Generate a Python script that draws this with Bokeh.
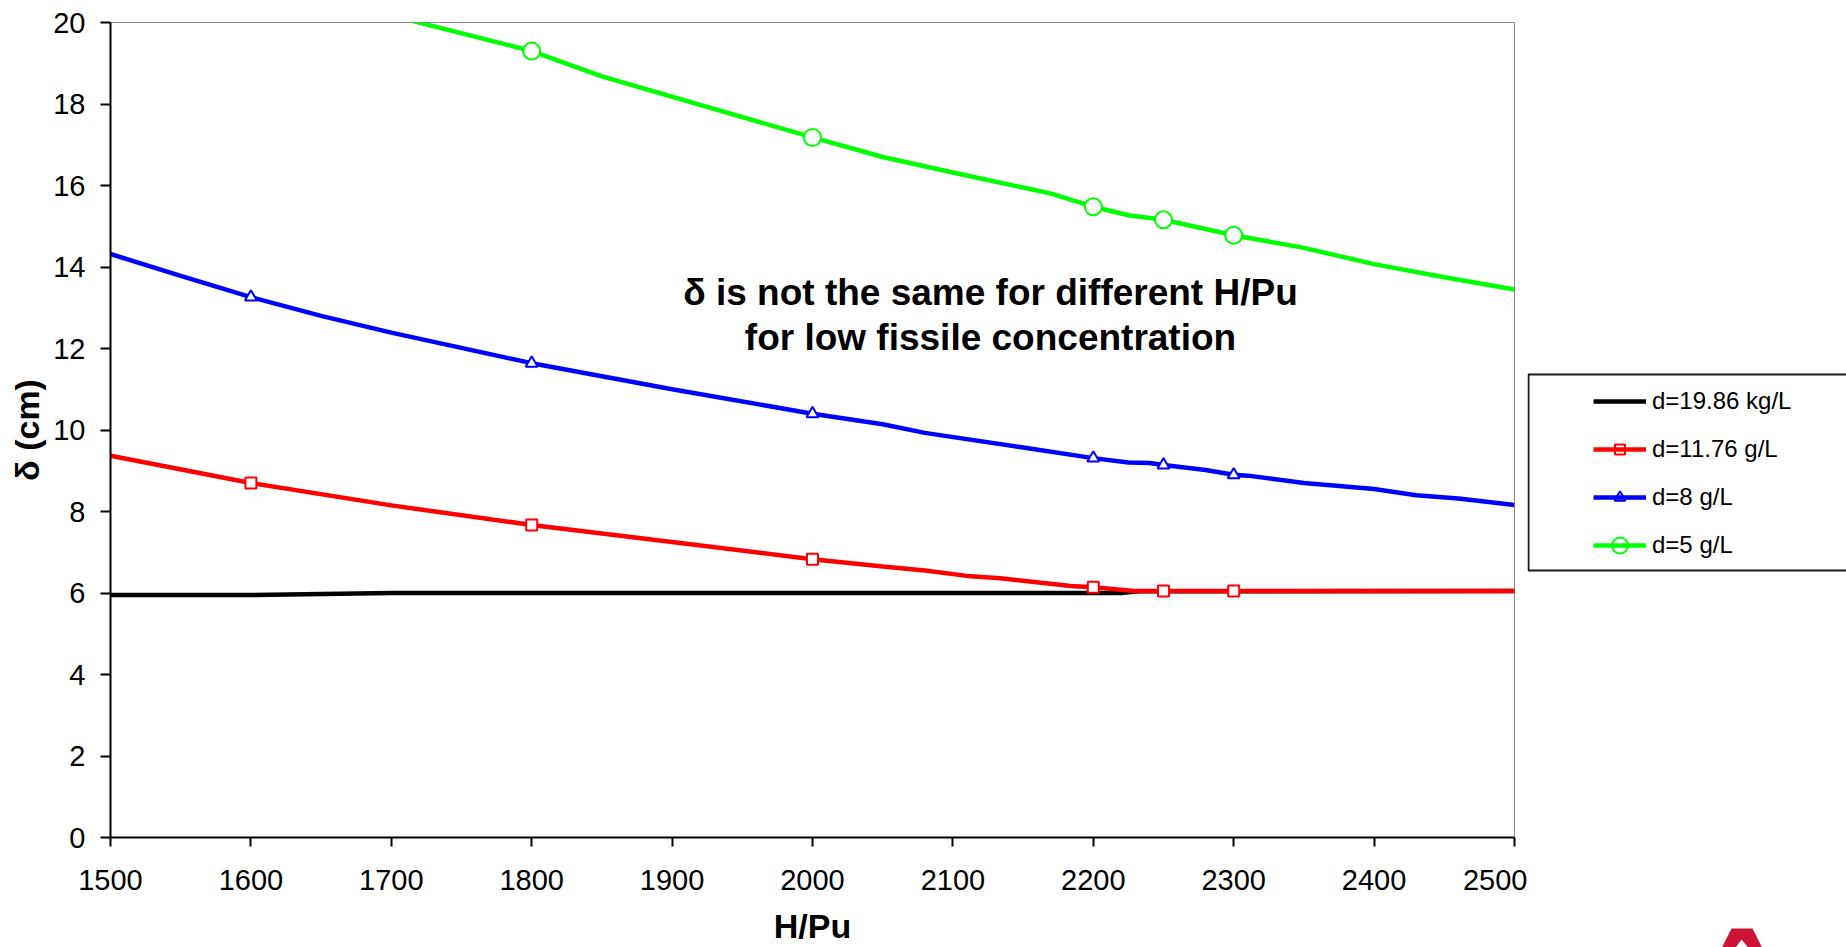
from bokeh.plotting import figure
from bokeh.models import Range1d, FixedTicker, Legend, LegendItem, Label
from bokeh.layouts import row
from bokeh.embed import file_html
from bokeh.resources import INLINE

# ---- data ----
black_x = [1500, 1600, 1700, 1800, 2000, 2220, 2232, 2500]
black_y = [5.95, 5.95, 6.0, 6.0, 6.0, 6.0, 6.04, 6.05]

red_x = [1500, 1600, 1700, 1800, 1900, 2000, 2050, 2080, 2110, 2134, 2184, 2200, 2229, 2250, 2300, 2500]
red_y = [9.37, 8.70, 8.15, 7.67, 7.25, 6.83, 6.65, 6.55, 6.42, 6.36, 6.17, 6.14, 6.05, 6.05, 6.05, 6.05]
red_mx = [1600, 1800, 2000, 2200, 2250, 2300]
red_my = [8.70, 7.67, 6.83, 6.14, 6.05, 6.05]

blue_x = [1500, 1550, 1600, 1650, 1700, 1800, 1900, 2000, 2050, 2080, 2150, 2200, 2225, 2240, 2250, 2280, 2300, 2310, 2350, 2400, 2430, 2460, 2500]
blue_y = [14.32, 13.78, 13.26, 12.80, 12.39, 11.64, 11.00, 10.40, 10.14, 9.93, 9.57, 9.31, 9.20, 9.19, 9.14, 9.02, 8.90, 8.88, 8.70, 8.55, 8.40, 8.32, 8.16]
blue_mx = [1600, 1800, 2000, 2200, 2250, 2300]
blue_my = [13.26, 11.64, 10.40, 9.31, 9.14, 8.90]

green_x = [1700, 1800, 1850, 2000, 2050, 2100, 2150, 2170, 2200, 2225, 2250, 2300, 2350, 2400, 2450, 2500]
green_y = [20.17, 19.30, 18.68, 17.18, 16.70, 16.32, 15.95, 15.80, 15.48, 15.27, 15.16, 14.78, 14.47, 14.07, 13.75, 13.45]
green_mx = [1800, 2000, 2200, 2250, 2300]
green_my = [19.30, 17.18, 15.48, 15.16, 14.78]

labels = ["d=19.86 kg/L", "d=11.76 g/L", "d=8 g/L", "d=5 g/L"]
colors = ["black", "#ff0000", "#0000ff", "#00ff00"]
markers = [None, "square", "triangle", "circle"]
marker_sizes = [0, 11, 12, 17]
x_ticks = list(range(1500, 2501, 100))
y_ticks = list(range(0, 21, 2))
note_lines = ["\u03b4 is not the same for different H/Pu", "for low fissile concentration"]

FONT = "Liberation Sans"
LW = 4.5
MLW = 2

p = figure(width=1527, height=947, output_backend="svg", toolbar_location=None,
           x_range=Range1d(1500, 2500), y_range=Range1d(0, 20),
           min_border_left=110, min_border_right=13, min_border_top=22,
           min_border_bottom=108)
p.background_fill_color = "white"
p.border_fill_color = "white"
p.outline_line_color = "#8c8c8c"
p.outline_line_width = 1
p.xgrid.visible = False
p.ygrid.visible = False

for ax in (p.xaxis[0], p.yaxis[0]):
    ax.axis_line_color = "black"
    ax.axis_line_width = 2
    ax.major_tick_line_color = "black"
    ax.major_tick_line_width = 2
    ax.major_tick_in = 0
    ax.minor_tick_line_color = None
    ax.major_label_text_font = FONT
    ax.major_label_text_font_size = "29px"
    ax.major_label_text_color = "black"
    ax.axis_label_text_font = FONT
    ax.axis_label_text_font_style = "bold"
    ax.axis_label_text_font_size = "34px"
    ax.axis_label_text_color = "black"

p.xaxis.ticker = FixedTicker(ticks=x_ticks)
p.yaxis.ticker = FixedTicker(ticks=y_ticks)
p.xaxis.major_tick_out = 9
p.yaxis.major_tick_out = 10
p.xaxis.major_label_standoff = 23
p.yaxis.major_label_standoff = 15
p.xaxis.axis_label = "H/Pu"
p.yaxis.axis_label = "\u03b4 (cm)"
p.xaxis.axis_label_standoff = 14
p.yaxis.axis_label_standoff = 4

series = [(black_x, black_y, None, None), (red_x, red_y, red_mx, red_my),
          (blue_x, blue_y, blue_mx, blue_my), (green_x, green_y, green_mx, green_my)]
for i, (lx, ly, mx, my) in enumerate(series):
    p.line(lx, ly, line_color=colors[i], line_width=LW)
    if mx is not None:
        p.scatter(mx, my, marker=markers[i], size=marker_sizes[i], fill_color="white",
                  line_color=colors[i], line_width=MLW)

# annotation text
for i, txt in enumerate(note_lines):
    p.add_layout(Label(x=880, y=545 - 45 * i, x_units="screen", y_units="screen",
                       text=txt, text_align="center", text_baseline="alphabetic",
                       text_font=FONT, text_font_style="bold",
                       text_font_size="37px", text_color="black"))

# ---- legend panel (second figure, pixel coordinates, y downwards) ----
lf = figure(width=319, height=947, output_backend="svg", toolbar_location=None,
            x_range=Range1d(0, 319), y_range=Range1d(947, 0),
            min_border_left=0, min_border_right=0, min_border_top=0,
            min_border_bottom=0)
lf.frame_align = False
lf.axis.visible = False
lf.grid.visible = False
lf.outline_line_color = None
lf.background_fill_color = "white"
lf.border_fill_color = "white"

# legend frame
BOX_TOP, BOX_BOTTOM = 374, 570
lf.quad(left=[1], right=[340], top=[BOX_TOP], bottom=[BOX_BOTTOM], fill_color="white",
        line_color="#1a1a1a", line_width=2)

# legend layout constants (pixels inside the legend panel)
GX, GW = 66, 53          # glyph start and width
ROW0, PITCH, ROWH = 401, 48, 30

items = []
for i in range(4):
    rs = [lf.line([-60, -50], [-60, -60], line_color=colors[i], line_width=LW)]
    items.append(LegendItem(label=labels[i], renderers=rs))

legend = Legend(items=items, location=(GX, 947 - (ROW0 + 3 * PITCH + ROWH // 2)),
                padding=0, margin=0, spacing=PITCH - ROWH,
                glyph_width=GW, glyph_height=ROWH, label_height=ROWH, label_standoff=6,
                border_line_alpha=0, background_fill_alpha=0,
                label_text_font=FONT, label_text_font_size="24px",
                label_text_color="black")
lf.add_layout(legend, "center")

# legend markers drawn on top of the centre of each legend sample line
for i in range(4):
    if markers[i] is not None:
        lf.scatter([GX + GW / 2], [ROW0 + i * PITCH], marker=markers[i],
                   size=marker_sizes[i] - 1, fill_color="white",
                   line_color=colors[i], line_width=MLW, level="overlay")

# cut-off logo at the bottom right
lf.patch(x=[204, 225, 236, 223, 214, 206, 193], y=[928, 928, 950, 950, 939, 950, 950],
         fill_color="#cc1236", line_color=None)

open("out.html", "w").write(file_html(row(p, lf), INLINE))
